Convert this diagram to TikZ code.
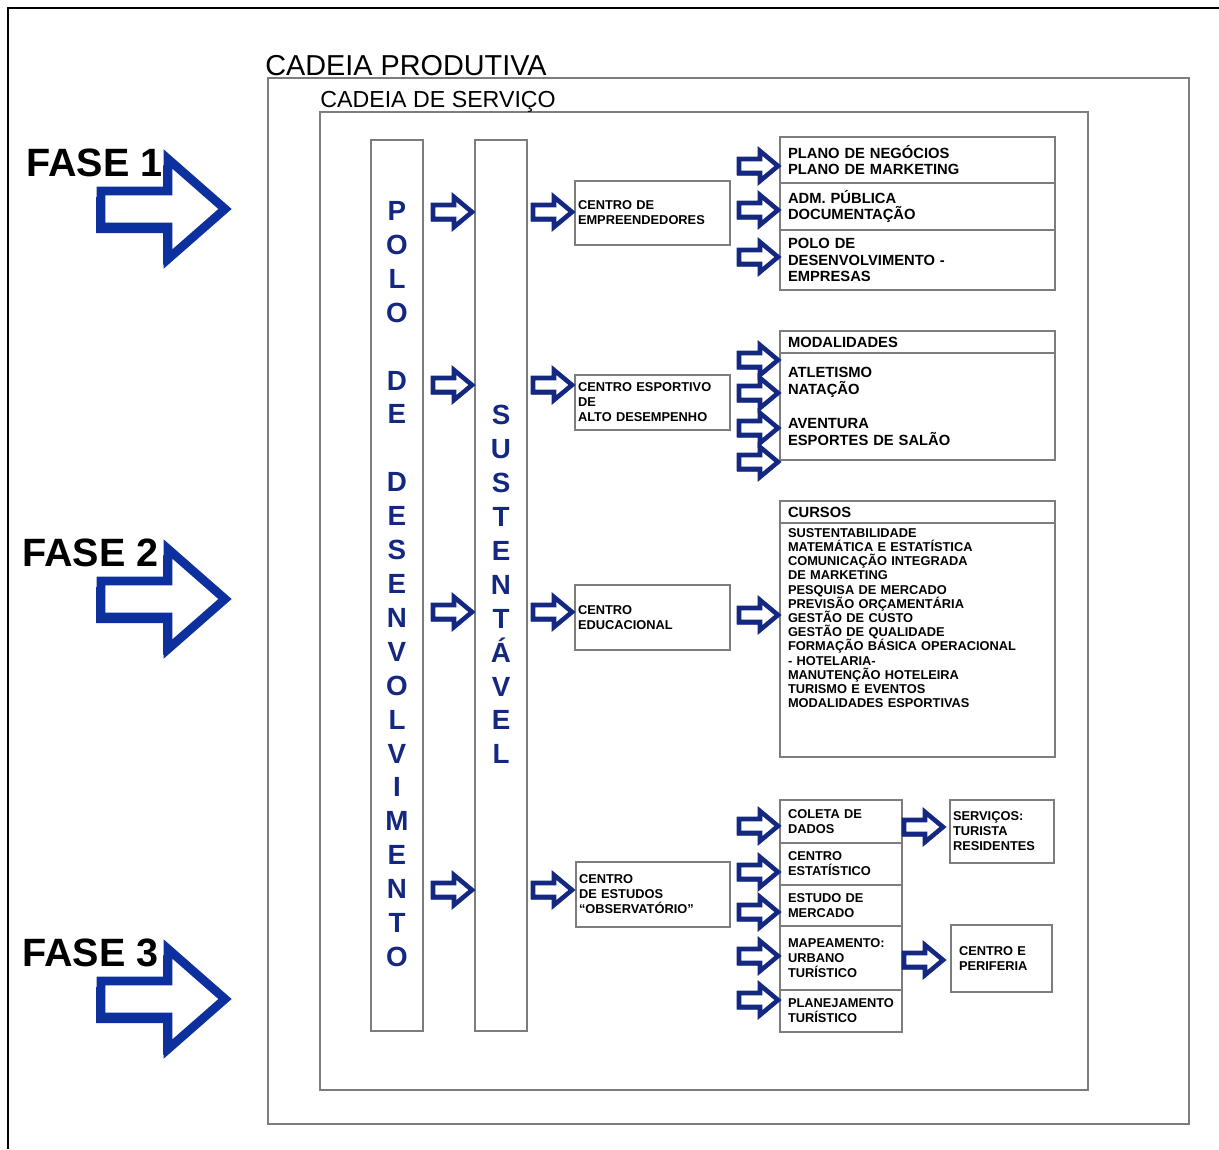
\documentclass[tikz,border=0pt]{standalone}
\usepackage{fontspec}
\setmainfont{Liberation Sans}
\usetikzlibrary{positioning}

\definecolor{navy}{RGB}{20,40,130}
\definecolor{faseblue}{RGB}{12,48,158}
\definecolor{boxgray}{RGB}{125,125,125}
\newcommand{\unitpx}{0.02cm}
% hollow block arrow: length, half head, half shaft, head length
\newcommand{\arrowpath}[4]{(0,-#3) -- (#1-#4,-#3) -- (#1-#4,-#2) -- (#1,0) -- (#1-#4,#2) -- (#1-#4,#3) -- (0,#3) -- cycle}

\tikzset{
  frame/.style 2 args={draw=boxgray, line width=1.1pt, anchor=north west, outer sep=0pt,
    minimum width=#1*\unitpx, minimum height=#2*\unitpx},
  box/.style 2 args={frame={#1}{#2}, inner xsep=8*\unitpx, inner ysep=0pt,
    text width=#1*\unitpx-16*\unitpx, align=left, text=black,
    font={\fontsize{8.4}{9.6}\selectfont\bfseries\lineskiplimit=-9pt}},
  cbox/.style 2 args={box={#1}{#2}, inner xsep=3*\unitpx, text width=#1*\unitpx-6*\unitpx,
    font={\fontsize{7.3}{8.5}\selectfont\bfseries\lineskiplimit=-9pt}},
  small/.style={font={\fontsize{7.3}{8.5}\selectfont\bfseries\lineskiplimit=-9pt}},
  bar/.style={frame={52}{891}},
  barletters/.style={anchor=north, inner sep=0pt, align=center, text=navy,
    font={\fontsize{15.8}{19.3}\selectfont\bfseries\lineskiplimit=-9pt}},
  fase/.style={anchor=base west, inner sep=0pt, font={\fontsize{22.5}{24}\selectfont\bfseries}},
  chain/.style={anchor=base west, inner sep=0pt, text=black},
  pics/smallarrow/.style={code={
    \fill[navy, shift={(-2,2.5)}] \arrowpath{39}{15}{7}{18};
    \draw[navy, line width=2.6pt, fill=white] \arrowpath{39}{15}{7}{18};
  }},
  pics/bigarrow/.style={code={
    \fill[faseblue, shift={(-5,6)}] \arrowpath{124}{50}{18}{57};
    \draw[faseblue, line width=5pt, fill=white] \arrowpath{124}{50}{18}{57};
  }},
}

\begin{document}
\begin{tikzpicture}[x=0.02cm, y=-0.02cm]
    \useasboundingbox (0,0) rectangle (1219,1149);
    \draw[line width=1.7pt] (8,1149) -- (8,8) -- (1219,8);

    % chains
    \node[frame={921}{1046}] (produtiva) at (268,78) {};
    \node[frame={768}{978}] (servico) at (320,112) {};
    \node[chain, font=\fontsize{16.4}{18}\selectfont] (produtivatitle) at (265,75) {CADEIA PRODUTIVA};
    \node[chain, font=\fontsize{13.2}{15}\selectfont] (servicotitle) at (320,108) {CADEIA DE SERVIÇO};

    % vertical bars
    \node[bar] (polo) at (371,140) {};
    \node[bar] (sust) at (475,140) {};
    \node[barletters] (pololetters) at (397,201) {P\\O\\L\\O\\~\\D\\E\\~\\D\\E\\S\\E\\N\\V\\O\\L\\V\\I\\M\\E\\N\\T\\O};
    \node[barletters] (sustletters) at (501,405) {S\\U\\S\\T\\E\\N\\T\\Á\\V\\E\\L};

    % centres
    \node[cbox={155}{64}] (empreend) at (575,181) {CENTRO DE\\EMPREENDEDORES};
    \node[cbox={155}{55}] (esportivo) at (575,375) {CENTRO ESPORTIVO\\DE\\ALTO DESEMPENHO};
    \node[cbox={155}{65}] (educacional) at (575,585) {CENTRO\\EDUCACIONAL};
    \node[cbox={154}{65}] (estudos) at (576,862) {CENTRO\\DE ESTUDOS\\``OBSERVATÓRIO''};

    % phase 1 boxes
    \node[box={275}{46}] (plano) at (780,137) {PLANO DE NEGÓCIOS\\PLANO DE MARKETING};
    \node[box={275}{47}, below=0pt of plano] (adm) {ADM. PÚBLICA\\DOCUMENTAÇÃO};
    \node[box={275}{60}, below=0pt of adm] (polodes) {POLO DE\\DESENVOLVIMENTO -\\EMPRESAS};

    \node[box={275}{22}] (modhead) at (780,331) {MODALIDADES};
    \node[box={275}{107}, below=0pt of modhead] (modlist) {ATLETISMO\\NATAÇÃO\\~\\AVENTURA\\ESPORTES DE SALÃO};

    % phase 2 boxes
    \node[box={275}{22}] (cursoshead) at (780,501) {CURSOS};
    \node[box={275}{234}, below=0pt of cursoshead,
      font={\fontsize{7.3}{8.1}\selectfont\bfseries\lineskiplimit=-9pt}] (cursoslist)
      {SUSTENTABILIDADE\\MATEMÁTICA E ESTATÍSTICA\\COMUNICAÇÃO INTEGRADA\\DE MARKETING\\
       PESQUISA DE MERCADO\\PREVISÃO ORÇAMENTÁRIA\\GESTÃO DE CUSTO\\GESTÃO DE QUALIDADE\\
       FORMAÇÃO BÁSICA OPERACIONAL\\- HOTELARIA-\\MANUTENÇÃO HOTELEIRA\\TURISMO E EVENTOS\\
       MODALIDADES ESPORTIVAS\rule[-25pt]{0pt}{0pt}};

    % phase 3 boxes
    \node[box={122}{43}, small] (coleta) at (780,800) {COLETA DE\\DADOS};
    \node[box={122}{42}, small, below=0pt of coleta] (estatistico) {CENTRO\\ESTATÍSTICO};
    \node[box={122}{41}, small, below=0pt of estatistico] (mercado) {ESTUDO DE\\MERCADO};
    \node[box={122}{64}, small, below=0pt of mercado] (mapeamento) {MAPEAMENTO:\\URBANO\\TURÍSTICO};
    \node[box={122}{42}, small, below=0pt of mapeamento] (planejamento) {PLANEJAMENTO\\TURÍSTICO};
    \node[cbox={104}{63}] (servicos) at (950,800) {SERVIÇOS:\\TURISTA\\RESIDENTES};
    \node[box={101}{67}, small] (periferia) at (951,925) {CENTRO E\\PERIFERIA};

    % small arrows
    \foreach \y in {212,385,612,890} {
        \pic at (433,\y) {smallarrow};
        \pic at (533,\y) {smallarrow};
    }
    \foreach \y in {166,210,257,360,393,428,462,615,826,872,912,956,1000}
        \pic at (739,\y) {smallarrow};
    \pic at (904,827) {smallarrow};
    \pic at (904,960) {smallarrow};

    % phases
    \foreach \y in {209,599,999}
        \pic at (101,\y) {bigarrow};
    \node[fase] (fase1) at (26,176) {FASE 1};
    \node[fase] (fase2) at (22,566) {FASE 2};
    \node[fase] (fase3) at (22,966) {FASE 3};
\end{tikzpicture}
\end{document}
